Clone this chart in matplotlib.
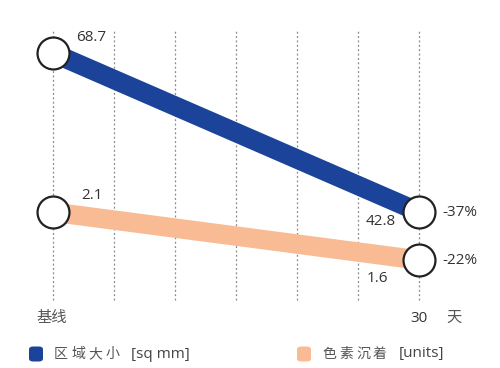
import matplotlib.pyplot as plt
from matplotlib.patches import FancyBboxPatch

plt.rcParams['font.family'] = ['Open Sans', 'Noto Sans CJK SC', 'DejaVu Sans']

# data
days = [0, 30]
x_labels = ["基线", "30"]
area = [68.7, 42.8]
pigment = [2.1, 1.6]
area_change = "-37%"
pigment_change = "-22%"
series_names = [("区域大小", "[sq mm]"), ("色素沉着", "[units]")]
colors = ["#1b4399", "#f9bb94"]
grid_days = [0, 5, 10, 15, 20, 25, 30]

text_col = "#333333"
cjk_col = "#555555"

fig = plt.figure(figsize=(5, 3.68), dpi=100)
ax = fig.add_axes([53 / 500, 68 / 368, 366 / 500, 270 / 368])
ax2 = ax.twinx()

ax.set_xlim(0, 30)
ax.set_ylim(28.47, 72.45)
ax2.set_ylim(1.183, 4.0)

for g in grid_days:
    ax.axvline(g, color="#888888", linestyle=(0, (1.5, 2)), linewidth=0.9, zorder=0, clip_on=False)

ax.plot(days, area, color=colors[0], linewidth=14, solid_capstyle="butt", zorder=2)
ax2.plot(days, pigment, color=colors[1], linewidth=14, solid_capstyle="butt", zorder=2)
ax.plot(days, area, linestyle="none", marker="o", markersize=23, markerfacecolor="white",
        markeredgecolor="#222222", markeredgewidth=1.6, clip_on=False, zorder=3)
ax2.plot(days, pigment, linestyle="none", marker="o", markersize=23, markerfacecolor="white",
         markeredgecolor="#222222", markeredgewidth=1.6, clip_on=False, zorder=3)

for a in (ax, ax2):
    a.set_axis_off()

fs = 11
ax.annotate(f"{area[0]}", (days[0], area[0]), xytext=(17, 11), textcoords="offset points",
            fontsize=fs, color=text_col, ha="left", va="center")
ax.annotate(f"{area[1]}", (days[1], area[1]), xytext=(-17, -7), textcoords="offset points",
            fontsize=fs, color=text_col, ha="right", va="center")
ax.annotate(area_change, (days[1], area[1]), xytext=(17, 0), textcoords="offset points",
            fontsize=fs, color=text_col, ha="left", va="center")
ax2.annotate(f"{pigment[0]}", (days[0], pigment[0]), xytext=(20, 12), textcoords="offset points",
             fontsize=fs, color=text_col, ha="left", va="center")
ax2.annotate(f"{pigment[1]}", (days[1], pigment[1]), xytext=(-22, -13), textcoords="offset points",
             fontsize=fs, color=text_col, ha="right", va="center")
ax2.annotate(pigment_change, (days[1], pigment[1]), xytext=(17, 0), textcoords="offset points",
             fontsize=fs, color=text_col, ha="left", va="center")

# x labels
ax.annotate(x_labels[0], (days[0], 0), xycoords=("data", "axes fraction"), xytext=(-1, -13),
            textcoords="offset points", ha="center", va="center", fontsize=fs, color=cjk_col)
ax.annotate(x_labels[1], (days[1], 0), xycoords=("data", "axes fraction"), xytext=(0, -13),
            textcoords="offset points", ha="center", va="center", fontsize=fs, color=text_col)
ax.annotate("天", (days[1], 0), xycoords=("data", "axes fraction"), xytext=(25, -13),
            textcoords="offset points", ha="center", va="center", fontsize=fs, color=cjk_col)

# legend
leg_x = [29 / 500, 297 / 500]
leg_y = 1 - 354 / 368
sw, sh = 14 / 500, 15 / 368
for lx, (name, unit), c in zip(leg_x, series_names, colors):
    fig.patches.append(FancyBboxPatch((lx, leg_y - sh / 2), sw, sh,
                                      boxstyle="round,pad=0,rounding_size=0.008",
                                      transform=fig.transFigure, facecolor=c, edgecolor="none"))
    # spaced-out CJK characters
    cx = lx + 25 / 500
    for ch in name:
        fig.text(cx, leg_y, ch, fontsize=10, color=cjk_col, va="center", ha="left",
                 family=['Noto Sans CJK SC'])
        cx += 17 / 500
    fig.text(lx + 102 / 500, leg_y, unit, fontsize=fs, color="#444444", va="center", ha="left")

fig.savefig("out.png", dpi=100)
